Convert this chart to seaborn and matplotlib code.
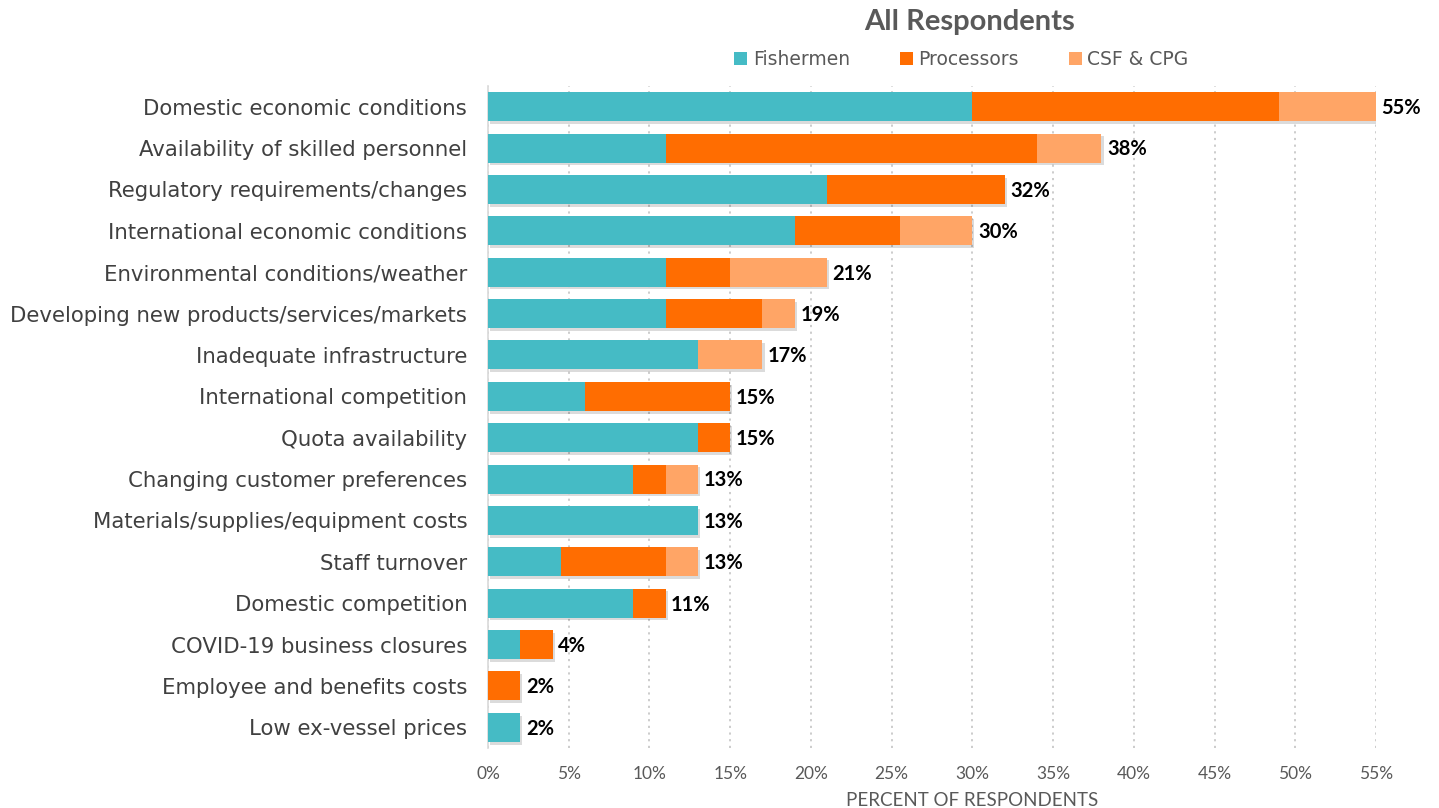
import matplotlib
matplotlib.use("Agg")
import matplotlib.pyplot as plt
import matplotlib.patheffects as pe
from matplotlib.patches import Patch
import seaborn as sns
import numpy as np

# Top concerns, share of all respondents (%) by respondent group
categories = [
    "Domestic economic conditions",
    "Availability of skilled personnel",
    "Regulatory requirements/changes",
    "International economic conditions",
    "Environmental conditions/weather",
    "Developing new products/services/markets",
    "Inadequate infrastructure",
    "International competition",
    "Quota availability",
    "Changing customer preferences",
    "Materials/supplies/equipment costs",
    "Staff turnover",
    "Domestic competition",
    "COVID-19 business closures",
    "Employee and benefits costs",
    "Low ex-vessel prices",
]
fishermen = [30, 11, 21, 19, 11, 11, 13, 6, 13, 9, 13, 4.5, 9, 2, 0, 2]
processors = [19, 23, 11, 6.5, 4, 6, 0, 9, 2, 2, 0, 6.5, 2, 2, 2, 0]
csf_cpg = [6, 4, 0, 4.5, 6, 2, 4, 0, 0, 2, 0, 2, 0, 0, 0, 0]

series_names = ["Fishermen", "Processors", "CSF & CPG"]
colors = ["#45BBC5", "#FF6D01", "#FFA566"]
x_ticks = list(range(0, 60, 5))

sns.set_theme(style="white")
plt.rcParams["font.family"] = ["DejaVu Sans"]

fig = plt.figure(figsize=(14.39, 8.08), dpi=100)
ax = fig.add_axes([0.3391, 0.0743, 0.6171, 0.8193])

f = np.array(fishermen, dtype=float)
p = np.array(processors, dtype=float)
c = np.array(csf_cpg, dtype=float)
# stacked bars drawn as cumulative layers, widest first
layers = [f + p + c, f + p, f]
layer_colors = [colors[2], colors[1], colors[0]]

for i, (vals, col) in enumerate(zip(layers, layer_colors)):
    n_before = len(ax.patches)
    sns.barplot(x=vals, y=categories, order=categories, orient="h", color=col,
                saturation=1, width=0.7, ax=ax, linewidth=0, zorder=3)
    if i == 0:
        for patch in ax.patches[n_before:]:
            patch.set_path_effects([
                pe.SimplePatchShadow(offset=(1.5, -2), shadow_rgbFace="black", alpha=0.14),
                pe.Normal(),
            ])

totals = f + p + c
for yi, tot in enumerate(totals):
    ax.annotate(f"{tot:.0f}%", xy=(tot, yi), xytext=(4, -1), textcoords="offset points",
                ha="left", va="center", fontsize=14.5, fontweight="bold", color="black",
                annotation_clip=False, family="Lato")

ax.set_xlim(0, 55)
ax.set_ylim(len(categories) - 0.5, -0.5)
ax.set_xticks(x_ticks)
ax.set_xticklabels([f"{v}%" for v in x_ticks], color="#595959", fontsize=12.5, family="Lato")
ax.tick_params(axis="x", length=0, pad=13)
ax.tick_params(axis="y", length=0, pad=15, labelsize=15.3, labelcolor="#404040")
ax.set_ylabel("")
ax.set_xlabel("PERCENT OF RESPONDENTS", color="#595959", fontsize=13.5, family="Lato")
ax.xaxis.set_label_coords(0.545, -0.066)

ax.xaxis.grid(True, linestyle=(0, (1.2, 2.5)), color="#C8C8C8", linewidth=1.3, zorder=0)
ax.yaxis.grid(False)
for side in ["top", "right", "bottom"]:
    ax.spines[side].set_visible(False)
ax.spines["left"].set_color("#D9D9D9")
ax.spines["left"].set_linewidth(1.2)

fig.text(0.674, 0.973, "All Respondents", ha="center", va="center",
         fontsize=21, fontweight="bold", color="#595959", family="Lato")

handles = [Patch(facecolor=col, edgecolor="none") for col in colors]
fig.legend(handles, series_names, loc="center", bbox_to_anchor=(0.668, 0.926), ncol=3,
           frameon=False, fontsize=13.5, labelcolor="#595959", handlelength=0.7,
           handleheight=0.7, handletextpad=0.3, columnspacing=2.65)

fig.savefig("out.png", dpi=100)
